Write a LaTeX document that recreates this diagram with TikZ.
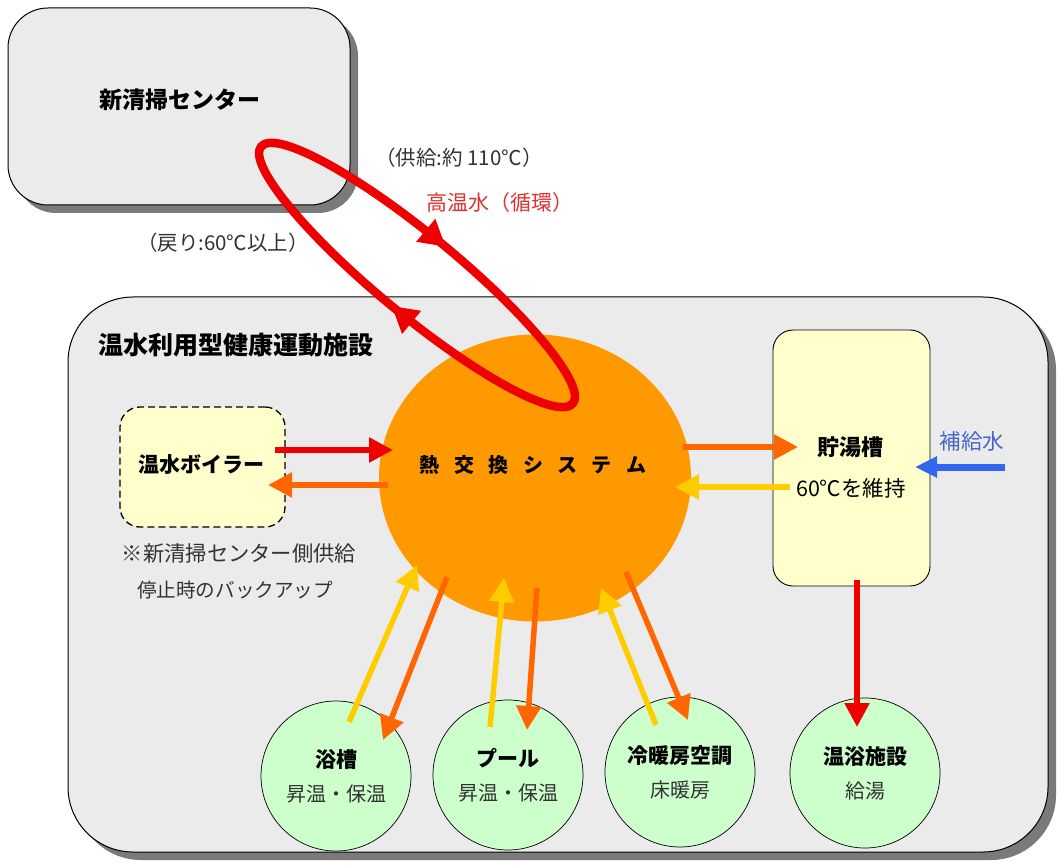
\documentclass[tikz,border=0pt]{standalone}
\usepackage{fontspec}
\setmainfont{Noto Sans CJK JP}
\usetikzlibrary{arrows.meta,decorations.markings,shadows,shapes.geometric}
\definecolor{boxgray}{HTML}{EBEBEB}
\definecolor{shadowgray}{HTML}{7A7A7A}
\definecolor{hxorange}{HTML}{FF9900}
\definecolor{arrred}{HTML}{EE0000}
\definecolor{arrorange}{HTML}{FF6600}
\definecolor{arryellow}{HTML}{FFCC00}
\definecolor{arrblue}{HTML}{3366EE}
\definecolor{paleyellow}{HTML}{FFFFCC}
\definecolor{palegreen}{HTML}{CCFFCC}
\definecolor{labelgray}{HTML}{333333}
\definecolor{loopred}{HTML}{EE0000}
\definecolor{textred}{HTML}{E03030}
\definecolor{textblue}{HTML}{4466CC}
\tikzset{
  graybox/.style={draw=black, line width=1pt, fill=boxgray, rounded corners=#1,
    drop shadow={shadow xshift=8pt, shadow yshift=-8pt, fill=shadowgray, opacity=1}},
  yellowbox/.style={draw=black, line width=0.9pt, fill=paleyellow, rounded corners=20pt},
  usecircle/.style={circle, draw=black, line width=0.7pt, fill=palegreen, minimum size=150pt,
    align=center, inner sep=0pt, font=\fontsize{21}{25}\selectfont},
  flow/.style={line width=5.5pt, -{Triangle[length=24pt,width=24pt]}},
  lbl/.style={text=labelgray, font=\fontsize{20.5}{24}\selectfont, inner sep=0pt},
  ttl/.style={font=\fontsize{22}{26}\bfseries\selectfont, inner sep=0pt},
}
\begin{document}
\begin{tikzpicture}[x=1pt,y=-1pt]
\useasboundingbox (0,0) rectangle (1059,866);
\fill[white] (0,0) rectangle (1059,866);

% top box
\node[graybox=40pt, minimum width=342pt, minimum height=197pt] (plant) at (179,106.5) {};
\node[ttl, font=\fontsize{23}{27}\bfseries\selectfont] (plantlabel) at (180,100) {新清掃センター};

% big facility box
\node[graybox=65pt, minimum width=980pt, minimum height=555pt] (facility) at (558,574.5) {};
\node[ttl, font=\fontsize{25}{29}\bfseries\selectfont] (facilitylabel) at (236,345) {温水利用型健康運動施設};

% heat exchanger
\node[ellipse, fill=hxorange, minimum width=312pt, minimum height=287pt, inner sep=0pt] (hx) at (535,478) {};
\node[ttl, font=\fontsize{20}{24}\bfseries\selectfont] (hxlabel) at (533,465) {熱\hspace{0.72em}交\hspace{0.72em}換\hspace{0.72em}シ\hspace{0.72em}ス\hspace{0.72em}テ\hspace{0.72em}ム};

% boiler
\node[yellowbox, dashed, dash pattern=on 7pt off 4pt, line width=1.3pt, minimum width=165pt, minimum height=120pt] (boiler) at (202.5,467) {};
\node[ttl, font=\fontsize{21}{25}\bfseries\selectfont] (boilerlabel) at (201,465) {温水ボイラー};
\node[lbl, font=\fontsize{21.3}{25}\selectfont] (note1) at (239,553) {※新清掃センター側供給};
\node[lbl, font=\fontsize{19.6}{23}\selectfont] (note2) at (235,590) {停止時のバックアップ};

% tank
\node[yellowbox, minimum width=157pt, minimum height=256pt] (tank) at (851.5,458) {};
\node[ttl] (tanklabel) at (850,447) {貯湯槽};
\node[lbl, text=black, font=\fontsize{21.5}{25}\selectfont] (tanksub) at (851,488) {60℃を維持};
\node[text=textblue, font=\fontsize{21.5}{25}\selectfont, inner sep=0pt] (supplylabel) at (972,441) {補給水};

% bottom circles
\node[usecircle] (bath) at (336,776) {\textbf{浴槽}\\[9pt]{\color{labelgray}\fontsize{20}{24}\selectfont 昇温・保温}};
\node[usecircle] (pool) at (508,775) {\textbf{プール}\\[9pt]{\color{labelgray}\fontsize{20}{24}\selectfont 昇温・保温}};
\node[usecircle] (hvac) at (680,772) {\textbf{冷暖房空調}\\[9pt]{\color{labelgray}\fontsize{20}{24}\selectfont 床暖房}};
\node[usecircle] (onsen) at (865,773) {\textbf{温浴施設}\\[9pt]{\color{labelgray}\fontsize{20}{24}\selectfont 給湯}};

% endpoint coordinates
\coordinate (b1s) at (275,450); \coordinate (b1e) at (393,450);
\coordinate (b2s) at (388,485); \coordinate (b2e) at (268,485);
\coordinate (t1s) at (683,447); \coordinate (t1e) at (798,447);
\coordinate (t2s) at (790,487); \coordinate (t2e) at (675,487);
\coordinate (ws) at (1005,467); \coordinate (we) at (915,467);
\coordinate (os) at (857,580); \coordinate (oe) at (857,727);
\coordinate (y1s) at (349,722); \coordinate (y1e) at (417,565);
\coordinate (o1s) at (447,577); \coordinate (o1e) at (383,740);
\coordinate (y2s) at (490,727); \coordinate (y2e) at (504,578);
\coordinate (o2s) at (537,588); \coordinate (o2e) at (527,730);
\coordinate (y3s) at (656,725); \coordinate (y3e) at (601,588);
\coordinate (o3s) at (626,572); \coordinate (o3e) at (688,720);

\draw[flow, arrred] (b1s) -- (b1e);
\draw[flow, arrorange] (b2s) -- (b2e);
\draw[flow, arrorange] (t1s) -- (t1e);
\draw[flow, arryellow] (t2s) -- (t2e);
\draw[flow, arrblue, line width=7pt, -{Triangle[length=22pt,width=20pt]}] (ws) -- (we);
\draw[flow, arrred] (os) -- (oe);
\draw[flow, arryellow] (y1s) -- (y1e);
\draw[flow, arrorange] (o1s) -- (o1e);
\draw[flow, arryellow] (y2s) -- (y2e);
\draw[flow, arrorange] (o2s) -- (o2e);
\draw[flow, arryellow] (y3s) -- (y3e);
\draw[flow, arrorange] (o3s) -- (o3e);

% labels of loop
\node[lbl] (supply) at (459,158) {（供給:約 110℃）};
\node[text=textred, font=\fontsize{21}{25}\selectfont, inner sep=0pt] (loopname) at (500,203) {高温水（循環）};
\node[lbl] (return) at (223,243) {（戻り:60℃以上）};

% circulation loop
\draw[loopred, line width=8.5pt,
  decoration={markings,
    mark=at position 0.245 with {\arrowreversed{Triangle[length=26pt,width=28pt]}},
    mark=at position 0.75 with {\arrowreversed{Triangle[length=26pt,width=28pt]}}},
  postaction={decorate}]
  [shift={(417,275)}, rotate=-39.5] (0,0) ellipse [x radius=202pt, y radius=40pt];
\end{tikzpicture}
\end{document}
